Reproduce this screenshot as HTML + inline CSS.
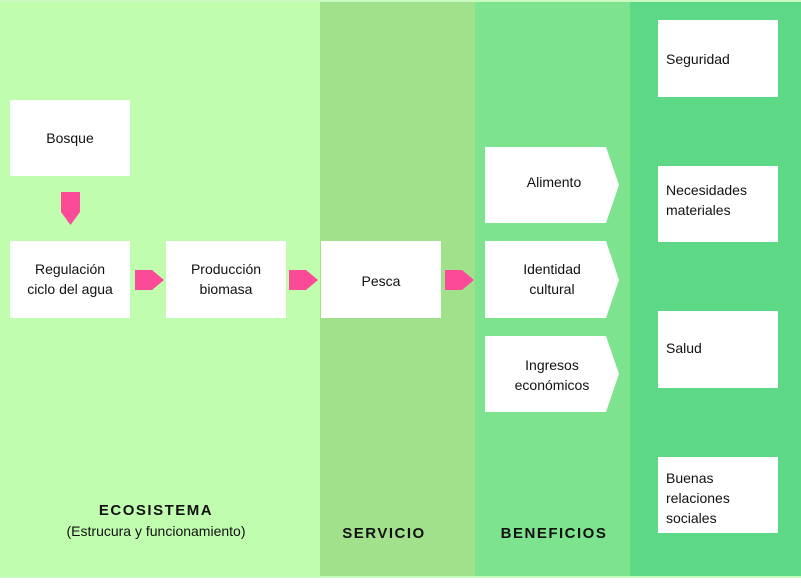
<!DOCTYPE html>
<html><head><meta charset="utf-8"><style>
body{margin:0;background:#fff}
svg text{font-family:"Liberation Sans",sans-serif;font-size:14px;fill:#111}
.b{font-weight:bold;letter-spacing:1.5px;font-size:15px}
</style></head><body>
<svg width="801" height="578" viewBox="0 0 801 578">
<rect x="0" y="0" width="801" height="578" fill="#c9fbc0"/>
<rect x="0" y="2" width="320" height="574" fill="#c1fdae"/>
<rect x="320" y="2" width="155" height="574" fill="#a2e18c"/>
<rect x="475" y="2" width="155" height="574" fill="#7de38e"/>
<rect x="630" y="2" width="171" height="574" fill="#5cd886"/>
<g fill="#fff">
<rect x="10" y="100" width="120" height="76"/>
<rect x="10" y="241" width="120" height="77"/>
<rect x="166" y="241" width="120" height="77"/>
<rect x="321" y="241" width="120" height="77"/>
<polygon points="485,147 606,147 619,185 606,223 485,223"/>
<polygon points="485,241 606,241 619,280 606,318 485,318"/>
<polygon points="485,336 606,336 619,374 606,412 485,412"/>
<rect x="658" y="20" width="120" height="77"/>
<rect x="658" y="166" width="120" height="76"/>
<rect x="658" y="311" width="120" height="77"/>
<rect x="658" y="457" width="120" height="76"/>
</g>
<g fill="#fb4b98">
<polygon points="61,192 80,192 80,212 70.5,225 61,212"/>
<polygon points="135,270 152,270 164,280 152,290 135,290"/>
<polygon points="289,270 306,270 318,280 306,290 289,290"/>
<polygon points="445,270 462,270 474,280 462,290 445,290"/>
</g>
<g text-anchor="middle">
<text x="70" y="143">Bosque</text>
<text x="70" y="274">Regulación</text>
<text x="70" y="294">ciclo del agua</text>
<text x="226" y="274">Producción</text>
<text x="226" y="294">biomasa</text>
<text x="381" y="286">Pesca</text>
<text x="554" y="187">Alimento</text>
<text x="552" y="274">Identidad</text>
<text x="552" y="294">cultural</text>
<text x="552" y="370">Ingresos</text>
<text x="552" y="390">económicos</text>
<text class="b" x="156" y="515">ECOSISTEMA</text>
<text x="156" y="536">(Estrucura y funcionamiento)</text>
<text class="b" x="384" y="538">SERVICIO</text>
<text class="b" x="554" y="538">BENEFICIOS</text>
</g>
<g>
<text x="666" y="64">Seguridad</text>
<text x="666" y="195">Necesidades</text>
<text x="666" y="215">materiales</text>
<text x="666" y="353">Salud</text>
<text x="666" y="483">Buenas</text>
<text x="666" y="503">relaciones</text>
<text x="666" y="523">sociales</text>
</g>
</svg>
</body></html>
